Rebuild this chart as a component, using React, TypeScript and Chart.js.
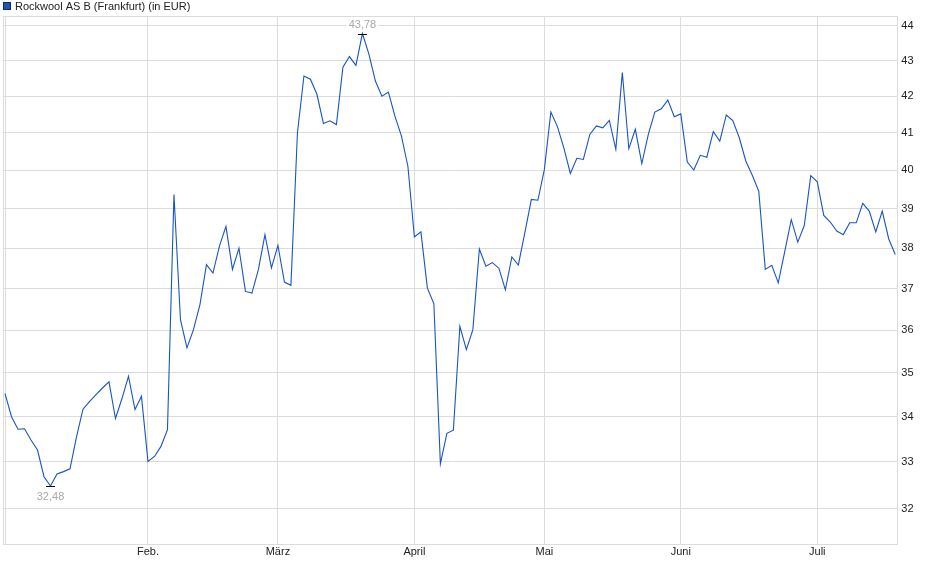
import { useEffect, useRef } from "react";
import { Chart, registerables } from "chart.js";

Chart.register(...registerables);

const seriesLabel = "Rockwool AS B (Frankfurt) (in EUR)";

// Schlusskurse je Handelstag (2. Jan. bis Mitte Juli), in EUR
const closes: number[] = [
  34.52, 34.0, 33.72, 33.73, 33.48, 33.26, 32.68, 32.48, 32.74, 32.79,
  32.85, 33.55, 34.17, 34.34, 34.5, 34.65, 34.79, 33.96, 34.41, 34.92,
  34.16, 34.46, 33.01, 33.12, 33.34, 33.71, 39.37, 36.25, 35.58, 36.01,
  36.61, 37.59, 37.38, 38.05, 38.55, 37.47, 38.0, 36.93, 36.89, 37.47,
  38.34, 37.51, 38.07, 37.16, 37.08, 41.0, 42.57, 42.48, 42.06, 41.26,
  41.33, 41.23, 42.82, 43.12, 42.87, 43.78, 43.19, 42.43, 42.01, 42.12,
  41.46, 40.92, 40.11, 38.28, 38.41, 37.01, 36.63, 32.96, 33.63, 33.7,
  36.09, 35.54, 36.01, 37.98, 37.55, 37.64, 37.5, 36.97, 37.78, 37.58,
  38.39, 39.24, 39.22, 40.02, 41.57, 41.18, 40.6, 39.92, 40.32, 40.29,
  40.96, 41.19, 41.14, 41.34, 40.56, 42.67, 40.58, 41.1, 40.18, 40.96,
  41.57, 41.66, 41.9, 41.44, 41.52, 40.22, 40.01, 40.4, 40.35, 41.04,
  40.78, 41.49, 41.34, 40.87, 40.25, 39.87, 39.45, 37.47, 37.57, 37.14,
  37.92, 38.72, 38.15, 38.57, 39.86, 39.7, 38.83, 38.66, 38.43, 38.34,
  38.64, 38.64, 39.14, 38.94, 38.41, 38.94, 38.23, 37.84,
];

// Monatsanfang als Handelstag-Index
const monthTickIdx = [0, 22, 42, 63, 83, 104, 125];
const monthTickLabels = ["", "Feb.", "März", "April", "Mai", "Juni", "Juli"];

const yTicks = [32, 33, 34, 35, 36, 37, 38, 39, 40, 41, 42, 43, 44];
const yMin = 31.24;
const yMax = 44.29;
const xMin = -0.31;
const xMax = 137.47;

const FONT = "'Liberation Sans', Arial, Helvetica, sans-serif";
const GRID = "#dcdcdc";

const fmt = (v: number) => v.toFixed(2).replace(".", ",");

const chartDecor = {
  id: "chartDecor",
  beforeDatasetsDraw(chart: any) {
    const { ctx, chartArea: a } = chart;
    ctx.save();
    ctx.strokeStyle = GRID;
    ctx.lineWidth = 1;
    ctx.strokeRect(
      Math.round(a.left) + 0.5,
      Math.round(a.top) + 0.5,
      Math.round(a.right - a.left) - 1,
      Math.round(a.bottom - a.top) - 1
    );
    ctx.restore();
  },
  afterDraw(chart: any) {
    const { ctx } = chart;
    const xs = chart.scales.x;
    const ys = chart.scales.y;
    ctx.save();

    // Legende oben links
    ctx.fillStyle = "#1b55b8";
    ctx.fillRect(3, 2, 8, 8);
    ctx.strokeStyle = "#0c2a66";
    ctx.lineWidth = 1;
    ctx.strokeRect(3.5, 2.5, 7, 7);
    ctx.font = `11px ${FONT}`;
    ctx.fillStyle = "#222";
    ctx.textBaseline = "middle";
    ctx.textAlign = "left";
    ctx.fillText(seriesLabel, 15, 6.5);

    // Hoch / Tief markieren
    const hi = Math.max(...closes);
    const lo = Math.min(...closes);
    const marks = [
      { i: closes.indexOf(hi), v: hi, dy: -9 },
      { i: closes.indexOf(lo), v: lo, dy: 10.5 },
    ];
    ctx.font = `11px ${FONT}`;
    ctx.textAlign = "center";
    for (const m of marks) {
      const px = xs.getPixelForValue(m.i);
      const py = ys.getPixelForValue(m.v);
      ctx.strokeStyle = "#000";
      ctx.beginPath();
      ctx.moveTo(px - 4.5, Math.round(py) + 0.5);
      ctx.lineTo(px + 4.5, Math.round(py) + 0.5);
      ctx.stroke();
      const txt = fmt(m.v);
      const w = ctx.measureText(txt).width;
      ctx.fillStyle = "#fff";
      ctx.fillRect(px - w / 2 - 2, py + m.dy - 6, w + 4, 12);
      ctx.fillStyle = "#a8a8a8";
      ctx.fillText(txt, px, py + m.dy);
    }
    ctx.restore();
  },
};

export default function App() {
  const canvasRef = useRef<HTMLCanvasElement>(null);
  const chartRef = useRef<Chart | null>(null);

  useEffect(() => {
    if (!canvasRef.current) return;
    const ctx = canvasRef.current.getContext("2d");
    if (!ctx) return;

    if (chartRef.current) chartRef.current.destroy();

    chartRef.current = new Chart(ctx, {
      type: "line",
      data: {
        datasets: [
          {
            label: seriesLabel,
            data: closes.map((v, i) => ({ x: i, y: v })),
            borderColor: "#1754c4",
            borderWidth: 1.1,
            pointRadius: 0,
            tension: 0,
            fill: false,
          },
        ],
      },
      options: {
        responsive: false,
        maintainAspectRatio: false,
        animation: false,
        devicePixelRatio: 1,
        layout: { padding: { left: 3, top: 16, right: 0, bottom: 0 } },
        plugins: {
          legend: { display: false },
          tooltip: { enabled: false },
        },
        scales: {
          x: {
            type: "linear",
            min: xMin,
            max: xMax,
            afterBuildTicks: (scale: any) => {
              scale.ticks = monthTickIdx.map((v) => ({ value: v }));
            },
            afterFit: (scale: any) => {
              scale.height = 34;
            },
            grid: { color: GRID, drawTicks: false },
            border: { display: false },
            ticks: {
              autoSkip: false,
              maxRotation: 0,
              padding: 0,
              color: "#222",
              font: { family: FONT, size: 11 },
              callback: (v: any) => {
                const k = monthTickIdx.indexOf(Number(v));
                return k >= 0 ? monthTickLabels[k] : "";
              },
            },
          },
          y: {
            type: "logarithmic",
            position: "right",
            min: yMin,
            max: yMax,
            afterBuildTicks: (scale: any) => {
              scale.ticks = yTicks.map((v) => ({ value: v }));
            },
            afterFit: (scale: any) => {
              scale.width = 41.7;
            },
            grid: { color: GRID, drawTicks: false },
            border: { display: false },
            ticks: {
              padding: 3,
              color: "#222",
              font: { family: FONT, size: 11 },
              callback: (v: any) => String(v),
            },
          },
        },
      },
      plugins: [chartDecor],
    } as any);

    return () => {
      if (chartRef.current) {
        chartRef.current.destroy();
        chartRef.current = null;
      }
    };
  }, []);

  return (
    <div
      style={{
        position: "fixed",
        left: 0,
        top: 0,
        width: 940,
        height: 579,
        background: "#fff",
      }}
    >
      <canvas ref={canvasRef} width={940} height={579} style={{ width: 940, height: 579 }} />
    </div>
  );
}
